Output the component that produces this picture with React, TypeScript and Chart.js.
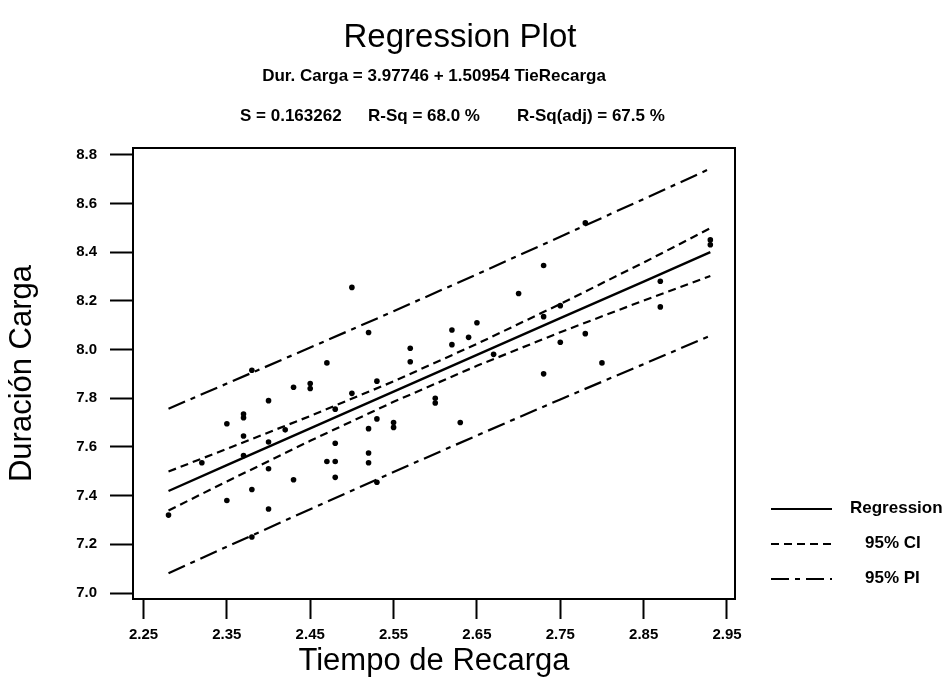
import React, { useEffect, useRef } from 'react';
import { Chart, registerables } from 'chart.js';

Chart.register(...registerables);

// Observed data (Tiempo de Recarga, Duración Carga)
const obsX = [2.28, 2.32, 2.35, 2.35, 2.37, 2.37, 2.37, 2.37, 2.38, 2.38, 2.38, 2.40, 2.40, 2.40, 2.40, 2.42, 2.43, 2.43, 2.45, 2.45,
  2.47, 2.47, 2.48, 2.48, 2.48, 2.48, 2.50, 2.50, 2.52, 2.52, 2.52, 2.52, 2.53, 2.53, 2.53, 2.55, 2.55, 2.57, 2.57, 2.60,
  2.60, 2.62, 2.62, 2.63, 2.64, 2.65, 2.67, 2.70, 2.73, 2.73, 2.73, 2.75, 2.75, 2.78, 2.78, 2.80, 2.87, 2.87, 2.93, 2.93];
const obsY = [7.32, 7.535, 7.695, 7.38, 7.72, 7.735, 7.645, 7.565, 7.425, 7.23, 7.915, 7.79, 7.62, 7.51, 7.345, 7.67, 7.845, 7.465, 7.86, 7.84,
  7.945, 7.54, 7.755, 7.615, 7.54, 7.475, 8.255, 7.82, 8.07, 7.675, 7.575, 7.535, 7.87, 7.715, 7.455, 7.70, 7.68, 8.005, 7.95, 7.80,
  7.78, 8.08, 8.02, 7.70, 8.05, 8.11, 7.98, 8.23, 8.135, 8.345, 7.90, 8.18, 8.03, 8.52, 8.065, 7.945, 8.28, 8.175, 8.45, 8.43];

// Fitted line and bands
const fitX = [2.28, 2.35, 2.45, 2.55, 2.65, 2.75, 2.85, 2.93];
const fitY = [7.419, 7.525, 7.676, 7.827, 7.978, 8.129, 8.279, 8.400];
const ciUpper = [7.499, 7.592, 7.727, 7.869, 8.023, 8.187, 8.357, 8.498];
const ciLower = [7.339, 7.458, 7.625, 7.785, 7.933, 8.071, 8.201, 8.302];
const piUpper = [7.757, 7.860, 8.008, 8.157, 8.309, 8.463, 8.618, 8.743];
const piLower = [7.081, 7.190, 7.344, 7.497, 7.647, 7.795, 7.940, 8.057];

// Ticks
const xTickValues = [2.25, 2.35, 2.45, 2.55, 2.65, 2.75, 2.85, 2.95];
const yTickValues = [7.0, 7.2, 7.4, 7.6, 7.8, 8.0, 8.2, 8.4, 8.6, 8.8];

// Texts
const titleText = 'Regression Plot';
const equationText = 'Dur. Carga = 3.97746 + 1.50954 TieRecarga';
const statTexts = ['S = 0.163262', 'R-Sq = 68.0 %', 'R-Sq(adj) = 67.5 %'];
const xTitle = 'Tiempo de Recarga';
const yTitle = 'Duración Carga';
const legendLabels = ['Regression', '95% CI', '95% PI'];

const CI_DASH = [8, 5];
const PI_DASH = [18, 6, 5, 6];
const FONT = '"Liberation Sans", Arial, sans-serif';

const pts = (xs: number[], ys: number[]) => xs.map((x, i) => ({ x, y: ys[i] }));

const decorPlugin = {
  id: 'decor',
  afterDraw(chart: any) {
    const { ctx, chartArea } = chart;
    ctx.save();
    // frame
    ctx.strokeStyle = '#000';
    ctx.lineWidth = 2;
    ctx.setLineDash([]);
    ctx.strokeRect(chartArea.left, chartArea.top, chartArea.right - chartArea.left, chartArea.bottom - chartArea.top);

    // titles
    ctx.fillStyle = '#000';
    ctx.textBaseline = 'alphabetic';
    ctx.textAlign = 'center';
    ctx.font = `normal 33px ${FONT}`;
    ctx.fillText(titleText, 460, 47);
    ctx.font = `bold 17px ${FONT}`;
    ctx.fillText(equationText, 434, 81);
    ctx.textAlign = 'left';
    const statX = [240, 368, 517];
    statTexts.forEach((t, i) => ctx.fillText(t, statX[i], 121));

    // legend
    const dashes = [[], CI_DASH, PI_DASH];
    const ly = [509, 544, 579];
    const tx = [850, 865, 865];
    legendLabels.forEach((lab, i) => {
      ctx.beginPath();
      ctx.setLineDash(dashes[i]);
      ctx.lineWidth = 2.2;
      ctx.moveTo(771, ly[i]);
      ctx.lineTo(832, ly[i]);
      ctx.stroke();
      ctx.setLineDash([]);
      ctx.font = `bold 17px ${FONT}`;
      ctx.textBaseline = 'middle';
      ctx.fillText(lab, tx[i], ly[i] - 1);
    });
    ctx.restore();
  },
};

export default function App() {
  const ref = useRef<HTMLCanvasElement | null>(null);
  useEffect(() => {
    if (!ref.current) return;
    const lineDs = (label: string, ys: number[], dash: number[], width: number) => ({
      label,
      data: pts(fitX, ys),
      showLine: true,
      borderColor: '#000',
      backgroundColor: '#000',
      borderWidth: width,
      borderDash: dash,
      pointRadius: 0,
      fill: false,
      tension: 0,
    });
    const chart = new Chart(ref.current, {
      type: 'scatter',
      data: {
        datasets: [
          {
            label: 'Observations',
            data: pts(obsX, obsY),
            pointRadius: 2.8,
            pointBackgroundColor: '#000',
            pointBorderWidth: 0,
            showLine: false,
          } as any,
          lineDs('Regression', fitY, [], 2.4),
          lineDs('95% CI upper', ciUpper, CI_DASH, 2.2),
          lineDs('95% CI lower', ciLower, CI_DASH, 2.2),
          lineDs('95% PI upper', piUpper, PI_DASH, 2.2),
          lineDs('95% PI lower', piLower, PI_DASH, 2.2),
        ],
      },
      options: {
        animation: false,
        responsive: false,
        maintainAspectRatio: false,
        layout: { padding: { top: 148, right: 213, bottom: 0, left: 0 } },
        plugins: { legend: { display: false }, tooltip: { enabled: false }, title: { display: false } },
        scales: {
          x: {
            type: 'linear',
            min: 2.2374,
            max: 2.9596,
            afterFit: (s: any) => { s.height = 83; },
            afterBuildTicks: (s: any) => { s.ticks = xTickValues.map((v) => ({ value: v })); },
            ticks: {
              color: '#000',
              font: { family: FONT, size: 15, weight: 'bold' },
              padding: 7,
              maxRotation: 0,
              autoSkip: false,
              callback: (v: any) => Number(v).toFixed(2),
            },
            grid: { drawOnChartArea: false, drawTicks: true, tickLength: 20, tickColor: '#000', tickWidth: 2 },
            border: { display: true, color: '#000', width: 2 },
            title: { display: true, text: xTitle, color: '#000', font: { family: FONT, size: 31 }, padding: { top: 0, bottom: 2 } },
          },
          y: {
            type: 'linear',
            min: 6.9754,
            max: 8.8275,
            afterFit: (s: any) => { s.width = 133; },
            afterBuildTicks: (s: any) => { s.ticks = yTickValues.map((v) => ({ value: v })); },
            ticks: {
              color: '#000',
              font: { family: FONT, size: 15, weight: 'bold' },
              padding: 13,
              autoSkip: false,
              callback: (v: any) => Number(v).toFixed(1),
            },
            grid: { drawOnChartArea: false, drawTicks: true, tickLength: 23, tickColor: '#000', tickWidth: 2 },
            border: { display: true, color: '#000', width: 2 },
            title: { display: true, text: yTitle, color: '#000', font: { family: FONT, size: 31 }, padding: { top: 4, bottom: 0 } },
          },
        },
      } as any,
      plugins: [decorPlugin],
    });
    return () => chart.destroy();
  }, []);
  return (
    <div style={{ position: 'absolute', left: 0, top: 0, width: 948, height: 682, background: '#fff' }}>
      <canvas ref={ref} width={948} height={682} style={{ display: 'block', width: 948, height: 682 }} />
    </div>
  );
}
